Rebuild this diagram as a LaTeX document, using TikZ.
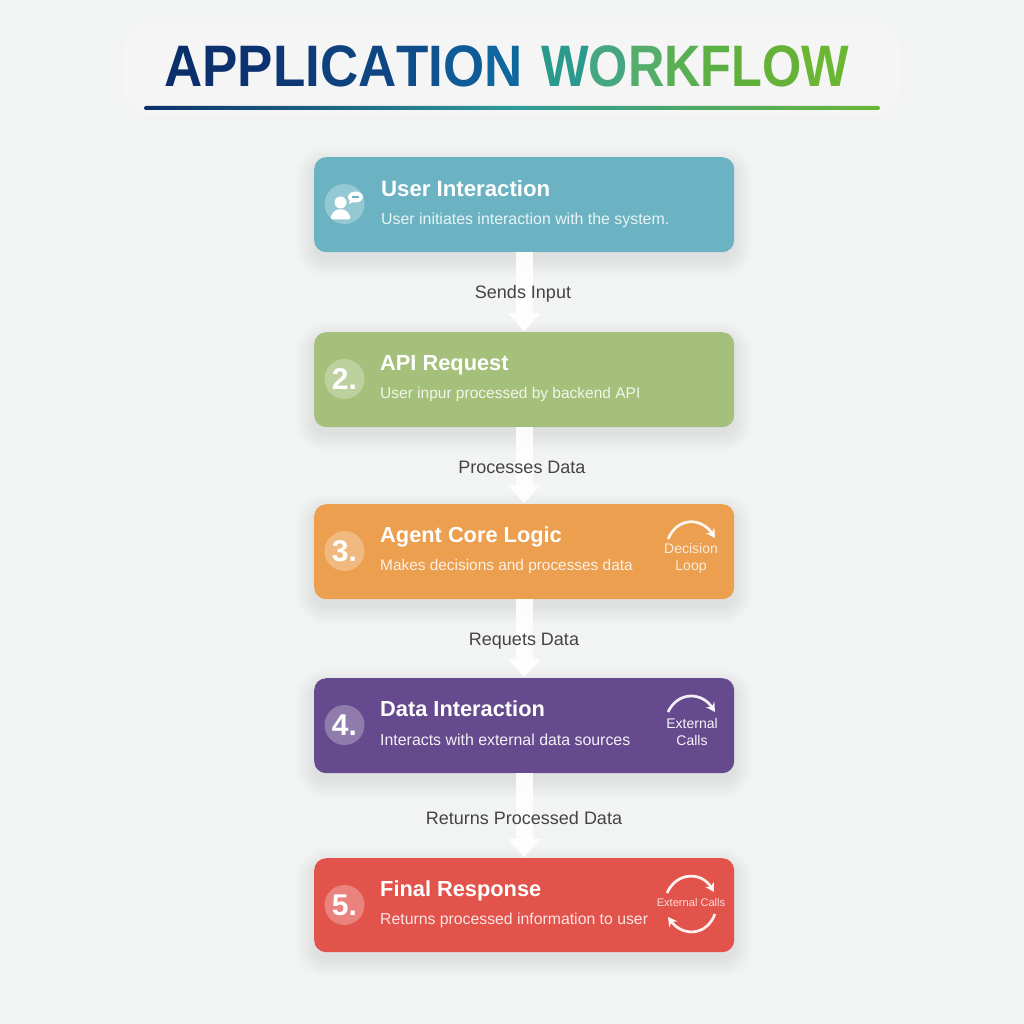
\documentclass[tikz,border=0pt]{standalone}
\usepackage{fontspec}
\setmainfont{Liberation Sans}
\usetikzlibrary{arrows.meta,calc}
\definecolor{bgc}{HTML}{F2F3F3}
\definecolor{panelc}{HTML}{F5F5F5}
\definecolor{tealc}{HTML}{6BB3C2}
\definecolor{greenc}{HTML}{A4C07B}
\definecolor{orangec}{HTML}{EB9F4F}
\definecolor{purplec}{HTML}{654A8E}
\definecolor{redc}{HTML}{E2534B}
\definecolor{labelc}{HTML}{444444}
\definecolor{ulA}{HTML}{0B2F6B}
\definecolor{ulB}{HTML}{2F9A9A}
\definecolor{ulC}{HTML}{6BB734}
\newcommand{\lc}[2]{\textcolor[HTML]{#1}{#2}}
\newcommand{\softshadow}[2]{%
  \foreach \e in {18,17,...,0}{%
    \fill[black,opacity=.0055,rounded corners={(12+\e)*1pt}] (314-\e,#1+8-\e) rectangle (734+\e,#2+7+\e);
  }%
}
\tikzset{
  x=1pt,y=-1pt,
  wfbox/.style={draw=none,rounded corners=12pt,minimum width=420pt,inner sep=0pt,anchor=north west},
  headtxt/.style={anchor=base west,inner sep=0pt,text=white,font=\bfseries\fontsize{21.8}{23}\selectfont},
  subtxt/.style={anchor=base west,inner sep=0pt,text=white,opacity=.85,font=\fontsize{15.6}{16}\selectfont},
  numdisc/.style={circle,fill=white,fill opacity=.28,text opacity=1,text=white,minimum size=40pt,inner sep=0pt,font=\bfseries\fontsize{30}{30}\selectfont},
  flow/.style={draw=white,opacity=.9,line width=17pt,-{Triangle[width=32pt,length=18pt]},shorten >=1pt},
  flowlabel/.style={text=labelc,inner sep=0pt,font=\fontsize{18}{18}\selectfont},
  sidetxt/.style={text=white,opacity=.8,inner sep=0pt,align=center,font=\fontsize{14}{17}\selectfont},
  looparc/.style={draw=white,opacity=.92,line width=2.7pt,-{Stealth[length=9pt,width=10pt]}},
  titletxt/.style={inner sep=0pt,anchor=base west,font=\bfseries\fontsize{58.5}{60}\selectfont},
}
\begin{document}
\begin{tikzpicture}
\useasboundingbox (0,0) rectangle (1024,1024);
\fill[bgc] (0,0) rectangle (1024,1024);
% title
\fill[panelc,rounded corners=30pt] (122,22) rectangle (901,116);
\node[titletxt] (title1) at (164,87) {\scalebox{.905}[1]{\lc{0B2F6B}{A}\lc{0C316E}{P}\lc{0C3371}{P}\lc{0D3875}{L}\lc{0D3C79}{I}\lc{0E417E}{C}\lc{0E4683}{A}\lc{0F4C89}{T}\lc{0F528F}{I}\lc{105A95}{O}\lc{10669E}{N}}};
\node[titletxt] (title2) at (541,87) {\scalebox{.862}[1]{\lc{2A9A8C}{W}\lc{45A781}{O}\lc{54AD6B}{R}\lc{5AAF55}{K}\lc{5DB045}{F}\lc{60B13C}{L}\lc{64B338}{O}\lc{6BB734}{W}}};
\shade[left color=ulA,right color=ulC,middle color=ulB,rounded corners=2pt] (144,106) rectangle (880,110);
% shadows
\softshadow{157}{252}
\softshadow{332}{427}
\softshadow{504}{599}
\softshadow{678}{773}
\softshadow{858}{952}
% boxes
\node[wfbox,fill=tealc,minimum height=95pt] (b1) at (314,157) {};
\node[wfbox,fill=greenc,minimum height=95pt] (b2) at (314,332) {};
\node[wfbox,fill=orangec,minimum height=95pt] (b3) at (314,504) {};
\node[wfbox,fill=purplec,minimum height=95pt] (b4) at (314,678) {};
\node[wfbox,fill=redc,minimum height=94pt] (b5) at (314,858) {};
% connectors
\draw[flow] (b1.south) -- (b2.north);
\draw[flow] (b2.south) -- (b3.north);
\draw[flow] (b3.south) -- (b4.north);
\draw[flow] (b4.south) -- (b5.north);
\node[flowlabel] (l1) at (523,294) {Sends Input};
\node[flowlabel] (l2) at (522,467) {Processes Data};
\node[flowlabel] (l3) at (524,641.5) {Requets Data};
\node[flowlabel] (l4) at (524,818) {Returns Processed Data};
% discs
\node[numdisc] (n1) at (344.5,204) {};
\node[numdisc] (n2) at (344.5,379) {2.};
\node[numdisc] (n3) at (344.5,551) {3.};
\node[numdisc] (n4) at (344.5,725) {4.};
\node[numdisc] (n5) at (344.5,905) {5.};
% user icon
\fill[white] (340.5,202.5) circle (6pt);
\fill[white,rounded corners=2.5pt] (330.5,219.5) -- (331,215) -- (336,209.5) -- (345,209.5) -- (350,215) -- (350.5,219.5) -- cycle;
\fill[white] (355.5,197) ellipse (7.5pt and 5.5pt);
\fill[white] (350,200) -- (349,204) -- (354,201.5) -- cycle;
\fill[tealc] (352,196) rectangle (359,198);
% texts
\node[headtxt,font=\bfseries\fontsize{22.2}{23}\selectfont] (h1) at (381,196.5) {User Interaction};
\node[subtxt,font=\fontsize{15.9}{16}\selectfont] (s1) at (381,224.5) {User initiates interaction with the system.};
\node[headtxt] (h2) at (380,370) {API Request};
\node[subtxt,font=\fontsize{15.5}{16}\selectfont] (s2) at (380,398) {User inpur processed by backend API};
\node[headtxt] (h3) at (380,542) {Agent Core Logic};
\node[subtxt,font=\fontsize{15.4}{16}\selectfont] (s3) at (380,570) {Makes decisions and processes data};
\node[headtxt] (h4) at (380,716) {Data Interaction};
\node[subtxt,opacity=.92,font=\fontsize{15.9}{16}\selectfont] (s4) at (380,745) {Interacts with external data sources};
\node[headtxt] (h5) at (380,896) {Final Response};
\node[subtxt,font=\fontsize{15.8}{16}\selectfont] (s5) at (380,924) {Returns processed information to user};
% side icons
\coordinate (a3s) at (668,539); \coordinate (a3e) at (715,538);
\draw[looparc] (a3s) .. controls (678,516) and (702,518) .. (a3e);
\node[sidetxt] (t3) at (691,558) {Decision\\Loop};
\coordinate (a4s) at (668,712); \coordinate (a4e) at (715,712);
\draw[looparc] (a4s) .. controls (678,691) and (702,692) .. (a4e);
\node[sidetxt,opacity=.95] (t4) at (692,732) {External\\Calls};
\coordinate (a5s) at (667,893); \coordinate (a5e) at (714,892);
\draw[looparc] (a5s) .. controls (677,871) and (702,872) .. (a5e);
\coordinate (a5t) at (715,914); \coordinate (a5u) at (668,917);
\draw[looparc] (a5t) .. controls (706,937) and (682,936) .. (a5u);
\node[sidetxt,font=\fontsize{11.1}{14}\selectfont] (t5) at (691,903) {External Calls};
\end{tikzpicture}
\end{document}
